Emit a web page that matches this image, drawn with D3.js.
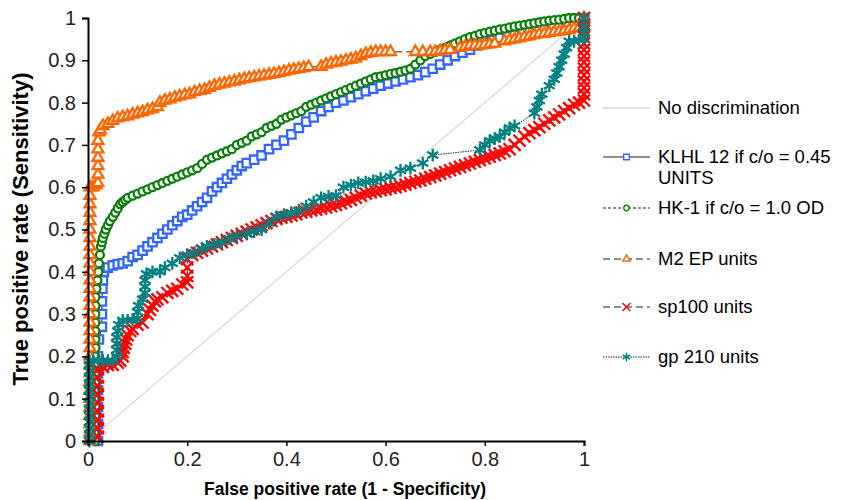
<!DOCTYPE html>
<html>
<head>
<meta charset="utf-8">
<script src="https://cdn.jsdelivr.net/npm/d3@7"></script>
<style>
  body { margin: 0; background: #fff; }
  text { font-family: "Liberation Sans", Arial, sans-serif; }
</style>
</head>
<body>
<svg width="845" height="500"></svg>
<script>
//  Chart data: each series is a list of [false positive rate, true positive rate]
const xTicks = [0, 0.2, 0.4, 0.6, 0.8, 1];
const yTicks = [0, 0.1, 0.2, 0.3, 0.4, 0.5, 0.6, 0.7, 0.8, 0.9, 1];
const noDiscrimination = [[0, 0], [1, 1]];

const klhl12 = [
  [0.02, 0], [0.02, 0.04], [0.02, 0.08], [0.02, 0.12], [0.02, 0.16], [0.02, 0.2], [0.022, 0.24],
  [0.028, 0.27], [0.028, 0.3], [0.028, 0.33], [0.029, 0.36], [0.03, 0.38], [0.032, 0.4], [0.04, 0.41],
  [0.05, 0.415], [0.06, 0.418], [0.07, 0.42], [0.08, 0.425], [0.09, 0.435], [0.1, 0.44], [0.11, 0.45],
  [0.12, 0.46], [0.13, 0.47], [0.14, 0.48], [0.15, 0.49], [0.16, 0.5], [0.17, 0.51], [0.18, 0.52],
  [0.19, 0.53], [0.2, 0.535], [0.21, 0.545], [0.22, 0.555], [0.23, 0.565], [0.24, 0.575], [0.25, 0.59],
  [0.26, 0.6], [0.27, 0.61], [0.28, 0.62], [0.29, 0.63], [0.3, 0.64], [0.31, 0.65], [0.32, 0.657],
  [0.335, 0.665], [0.35, 0.675], [0.365, 0.69], [0.38, 0.7], [0.395, 0.71], [0.41, 0.725], [0.425, 0.74],
  [0.44, 0.755], [0.455, 0.765], [0.47, 0.78], [0.485, 0.79], [0.5, 0.8], [0.515, 0.805], [0.53, 0.813],
  [0.545, 0.82], [0.56, 0.827], [0.575, 0.833], [0.59, 0.84], [0.605, 0.845], [0.62, 0.85], [0.635, 0.855],
  [0.65, 0.86], [0.665, 0.865], [0.68, 0.872], [0.695, 0.88], [0.71, 0.89], [0.725, 0.9], [0.74, 0.91],
  [0.755, 0.918], [0.77, 0.925], [0.785, 0.935], [0.8, 0.942], [0.815, 0.948], [0.83, 0.953], [0.845, 0.957],
  [0.86, 0.96], [0.875, 0.964], [0.89, 0.967], [0.905, 0.97], [0.92, 0.974], [0.935, 0.978], [0.95, 0.982],
  [0.965, 0.986], [0.98, 0.99], [0.99, 0.992], [1, 1]
];

const hk1 = [
  [0.015, 0], [0.015, 0.02], [0.015, 0.04], [0.015, 0.06], [0.015, 0.08], [0.015, 0.1], [0.015, 0.12],
  [0.015, 0.14], [0.015, 0.16], [0.015, 0.18], [0.015, 0.2], [0.015, 0.22], [0.015, 0.24], [0.015, 0.26],
  [0.015, 0.28], [0.015, 0.3], [0.015, 0.32], [0.015, 0.34], [0.017, 0.36], [0.019, 0.38], [0.021, 0.4],
  [0.022, 0.42], [0.024, 0.44], [0.026, 0.46], [0.028, 0.47], [0.03, 0.48], [0.033, 0.49], [0.036, 0.5],
  [0.04, 0.51], [0.044, 0.52], [0.05, 0.53], [0.055, 0.54], [0.06, 0.55], [0.065, 0.56], [0.07, 0.565],
  [0.075, 0.57], [0.08, 0.575], [0.09, 0.58], [0.1, 0.585], [0.11, 0.59], [0.12, 0.595], [0.13, 0.6],
  [0.14, 0.605], [0.15, 0.61], [0.16, 0.615], [0.17, 0.62], [0.18, 0.625], [0.19, 0.63], [0.2, 0.635],
  [0.21, 0.64], [0.22, 0.645], [0.23, 0.655], [0.24, 0.665], [0.25, 0.67], [0.26, 0.675], [0.27, 0.68],
  [0.28, 0.685], [0.29, 0.69], [0.3, 0.7], [0.31, 0.705], [0.32, 0.71], [0.33, 0.72], [0.34, 0.725],
  [0.35, 0.73], [0.36, 0.74], [0.37, 0.745], [0.38, 0.75], [0.39, 0.76], [0.4, 0.765], [0.41, 0.77],
  [0.42, 0.775], [0.43, 0.78], [0.44, 0.79], [0.45, 0.795], [0.46, 0.8], [0.47, 0.805], [0.48, 0.81],
  [0.49, 0.815], [0.5, 0.82], [0.51, 0.825], [0.52, 0.83], [0.53, 0.835], [0.54, 0.84], [0.55, 0.845],
  [0.56, 0.85], [0.57, 0.855], [0.58, 0.86], [0.59, 0.862], [0.6, 0.865], [0.61, 0.868], [0.62, 0.87],
  [0.63, 0.873], [0.64, 0.876], [0.65, 0.88], [0.66, 0.89], [0.67, 0.9], [0.68, 0.91], [0.69, 0.915],
  [0.7, 0.92], [0.71, 0.925], [0.72, 0.93], [0.73, 0.935], [0.74, 0.94], [0.75, 0.945], [0.76, 0.95],
  [0.77, 0.955], [0.78, 0.958], [0.79, 0.962], [0.8, 0.965], [0.81, 0.968], [0.82, 0.97], [0.83, 0.973],
  [0.84, 0.975], [0.85, 0.978], [0.86, 0.98], [0.87, 0.982], [0.88, 0.984], [0.89, 0.986], [0.9, 0.988],
  [0.91, 0.99], [0.92, 0.992], [0.93, 0.994], [0.94, 0.995], [0.95, 0.996], [0.96, 0.998], [0.97, 1],
  [0.98, 1], [0.99, 1], [1, 1]
];

const m2ep = [
  [0.004, 0], [0.004, 0.02], [0.004, 0.04], [0.004, 0.06], [0.004, 0.08], [0.004, 0.1], [0.004, 0.12],
  [0.004, 0.14], [0.004, 0.16], [0.004, 0.18], [0.004, 0.2], [0.004, 0.22], [0.004, 0.24], [0.004, 0.26],
  [0.004, 0.28], [0.004, 0.3], [0.004, 0.32], [0.004, 0.34], [0.004, 0.36], [0.004, 0.38], [0.004, 0.4],
  [0.004, 0.42], [0.004, 0.44], [0.004, 0.46], [0.004, 0.48], [0.004, 0.5], [0.004, 0.52], [0.004, 0.54],
  [0.004, 0.56], [0.004, 0.58], [0.004, 0.6], [0.01, 0.6], [0.016, 0.605], [0.02, 0.61], [0.02, 0.63],
  [0.02, 0.65], [0.02, 0.67], [0.02, 0.69], [0.02, 0.71], [0.022, 0.73], [0.025, 0.735], [0.03, 0.745],
  [0.04, 0.75], [0.05, 0.757], [0.06, 0.763], [0.07, 0.766], [0.08, 0.768], [0.09, 0.772], [0.1, 0.775],
  [0.11, 0.778], [0.12, 0.782], [0.13, 0.785], [0.14, 0.79], [0.145, 0.8], [0.155, 0.805], [0.165, 0.808],
  [0.175, 0.812], [0.185, 0.815], [0.195, 0.818], [0.205, 0.82], [0.215, 0.825], [0.225, 0.828], [0.235, 0.83],
  [0.245, 0.835], [0.255, 0.84], [0.265, 0.843], [0.275, 0.845], [0.285, 0.848], [0.295, 0.85], [0.305, 0.853],
  [0.315, 0.856], [0.325, 0.858], [0.335, 0.86], [0.345, 0.862], [0.355, 0.864], [0.365, 0.866], [0.375, 0.868],
  [0.385, 0.87], [0.395, 0.873], [0.405, 0.876], [0.415, 0.878], [0.425, 0.88], [0.435, 0.882], [0.445, 0.884],
  [0.47, 0.885], [0.48, 0.89], [0.49, 0.893], [0.5, 0.895], [0.51, 0.897], [0.52, 0.9], [0.53, 0.902],
  [0.54, 0.905], [0.55, 0.91], [0.56, 0.915], [0.57, 0.918], [0.58, 0.92], [0.59, 0.92], [0.6, 0.92],
  [0.61, 0.92], [0.66, 0.92], [0.675, 0.92], [0.69, 0.92], [0.7, 0.92], [0.71, 0.922], [0.72, 0.924],
  [0.73, 0.925], [0.75, 0.93], [0.76, 0.932], [0.77, 0.935], [0.78, 0.935], [0.79, 0.935], [0.8, 0.937],
  [0.81, 0.938], [0.82, 0.94], [0.84, 0.945], [0.85, 0.948], [0.86, 0.95], [0.87, 0.952], [0.88, 0.955],
  [0.89, 0.957], [0.9, 0.96], [0.91, 0.962], [0.92, 0.963], [0.93, 0.965], [0.94, 0.967], [0.95, 0.968],
  [0.96, 0.97], [0.97, 0.972], [0.98, 0.975], [0.99, 0.977], [1, 0.98], [1, 1]
];

const sp100 = [
  [0.02, 0.01], [0.02, 0.03], [0.02, 0.05], [0.02, 0.07], [0.02, 0.09], [0.02, 0.11], [0.02, 0.13],
  [0.02, 0.15], [0.02, 0.17], [0.03, 0.175], [0.04, 0.18], [0.05, 0.18], [0.06, 0.185], [0.065, 0.19],
  [0.07, 0.2], [0.07, 0.21], [0.072, 0.22], [0.075, 0.23], [0.077, 0.24], [0.08, 0.25], [0.085, 0.26],
  [0.09, 0.265], [0.1, 0.275], [0.11, 0.28], [0.12, 0.3], [0.125, 0.31], [0.13, 0.32], [0.135, 0.33],
  [0.14, 0.335], [0.15, 0.34], [0.16, 0.35], [0.17, 0.355], [0.18, 0.36], [0.19, 0.37], [0.2, 0.375],
  [0.2, 0.39], [0.2, 0.41], [0.2, 0.43], [0.21, 0.44], [0.22, 0.445], [0.23, 0.45], [0.24, 0.455],
  [0.25, 0.46], [0.26, 0.465], [0.27, 0.47], [0.28, 0.475], [0.29, 0.48], [0.3, 0.485], [0.31, 0.49],
  [0.32, 0.495], [0.33, 0.5], [0.34, 0.505], [0.35, 0.51], [0.36, 0.515], [0.37, 0.52], [0.38, 0.525],
  [0.39, 0.528], [0.4, 0.53], [0.41, 0.533], [0.42, 0.536], [0.43, 0.54], [0.44, 0.542], [0.45, 0.545],
  [0.46, 0.547], [0.47, 0.55], [0.48, 0.552], [0.49, 0.555], [0.5, 0.558], [0.51, 0.562], [0.52, 0.566],
  [0.53, 0.57], [0.54, 0.575], [0.55, 0.58], [0.56, 0.585], [0.57, 0.588], [0.58, 0.59], [0.59, 0.593],
  [0.6, 0.595], [0.61, 0.598], [0.62, 0.6], [0.63, 0.603], [0.64, 0.606], [0.65, 0.61], [0.66, 0.613],
  [0.67, 0.616], [0.68, 0.62], [0.69, 0.624], [0.7, 0.628], [0.71, 0.632], [0.72, 0.636], [0.73, 0.64],
  [0.74, 0.644], [0.75, 0.648], [0.76, 0.652], [0.77, 0.656], [0.78, 0.66], [0.79, 0.664], [0.8, 0.668],
  [0.81, 0.672], [0.82, 0.676], [0.83, 0.68], [0.84, 0.685], [0.85, 0.69], [0.86, 0.7], [0.87, 0.71],
  [0.88, 0.72], [0.89, 0.728], [0.9, 0.735], [0.91, 0.742], [0.92, 0.75], [0.93, 0.758], [0.94, 0.765],
  [0.95, 0.772], [0.96, 0.78], [0.97, 0.787], [0.98, 0.795], [0.99, 0.8], [1, 0.805], [1, 0.82],
  [1, 0.835], [1, 0.85], [1, 0.865], [1, 0.88], [1, 0.895], [1, 0.91], [1, 0.925], [1, 0.94],
  [1, 0.955], [1, 0.97], [1, 0.985], [1, 1]
];

const gp210 = [
  [0.003, 0], [0.003, 0.015], [0.003, 0.03], [0.003, 0.045], [0.003, 0.06], [0.003, 0.075], [0.003, 0.09],
  [0.003, 0.105], [0.003, 0.12], [0.003, 0.135], [0.003, 0.15], [0.003, 0.165], [0.003, 0.18], [0.003, 0.19],
  [0.01, 0.19], [0.02, 0.19], [0.03, 0.19], [0.04, 0.19], [0.05, 0.19], [0.058, 0.2], [0.058, 0.215],
  [0.058, 0.23], [0.058, 0.245], [0.06, 0.26], [0.062, 0.275], [0.07, 0.285], [0.08, 0.285], [0.09, 0.287],
  [0.1, 0.29], [0.1, 0.305], [0.102, 0.32], [0.11, 0.335], [0.115, 0.35], [0.115, 0.365], [0.115, 0.38],
  [0.118, 0.395], [0.13, 0.4], [0.145, 0.4], [0.155, 0.41], [0.17, 0.42], [0.185, 0.433], [0.2, 0.44],
  [0.215, 0.445], [0.23, 0.455], [0.24, 0.46], [0.255, 0.465], [0.27, 0.47], [0.285, 0.478], [0.3, 0.485],
  [0.32, 0.49], [0.335, 0.495], [0.35, 0.5], [0.365, 0.515], [0.38, 0.53], [0.395, 0.535], [0.41, 0.54],
  [0.425, 0.545], [0.44, 0.555], [0.455, 0.565], [0.47, 0.575], [0.485, 0.578], [0.5, 0.58], [0.515, 0.6],
  [0.53, 0.605], [0.545, 0.61], [0.56, 0.612], [0.575, 0.615], [0.59, 0.62], [0.61, 0.625], [0.63, 0.64],
  [0.65, 0.645], [0.675, 0.657], [0.695, 0.676], [0.79, 0.688], [0.8, 0.7], [0.81, 0.71], [0.82, 0.715],
  [0.83, 0.72], [0.84, 0.73], [0.85, 0.74], [0.86, 0.745], [0.9, 0.775], [0.905, 0.79], [0.91, 0.805],
  [0.915, 0.82], [0.93, 0.84], [0.94, 0.855], [0.945, 0.87], [0.95, 0.885], [0.955, 0.9], [0.96, 0.915],
  [0.965, 0.93], [0.97, 0.945], [0.98, 0.945], [0.99, 0.948], [1, 0.95], [1, 0.965], [1, 0.98], [1, 1]
];

const seriesNames = ['KLHL 12 if c/o = 0.45', 'HK-1 if c/o = 1.0 OD', 'M2 EP units', 'sp100 units', 'gp 210 units'];


//======================================
//  Layout
//======================================
const svg = d3.select('svg');
const margin = { top: 18, left: 88, right: 261, bottom: 59 };
const width = 845, height = 500;

const xScale = d3.scaleLinear().domain([0, 1]).range([margin.left, width - margin.right]);
const yScale = d3.scaleLinear().domain([0, 1]).range([height - margin.bottom, margin.top]);

//  One style entry per series, in the drawing order of the original workbook
const styles = [
  { name: seriesNames[0], data: klhl12, color: '#3366ff', symbol: d3.symbolSquare2, size: 90, fill: '#fff', dash: null },
  { name: seriesNames[1], data: hk1,    color: '#0b7f0b', symbol: d3.symbolCircle,  size: 50, fill: '#fff', dash: '3,2' },
  { name: seriesNames[2], data: m2ep,   color: '#ff6600', symbol: d3.symbolTriangle2, size: 85, fill: '#fff', dash: '7,4' },
  { name: seriesNames[3], data: sp100,  color: '#ff0000', symbol: d3.symbolTimes, size: 95, fill: 'none', dash: '7,4' },
  { name: seriesNames[4], data: gp210,  color: '#008080', symbol: d3.symbolAsterisk, size: 115, fill: 'none', dash: '1.5,1' }
];


//======================================
//  Diagonal reference
//======================================
const line = d3.line().x(d => xScale(d[0])).y(d => yScale(d[1]));

svg.append('path')
  .datum(noDiscrimination)
  .attr('d', line)
  .attr('fill', 'none')
  .attr('stroke', '#d9d9d9')
  .attr('stroke-width', 1.3);


//======================================
//  Series: thin connecting line, then markers
//======================================
styles.forEach(s => {
  const g = svg.append('g');

  g.append('path')
    .datum(s.data)
    .attr('d', line)
    .attr('fill', 'none')
    .attr('stroke', '#222')
    .attr('stroke-width', 1)
    .attr('stroke-dasharray', s.dash);

  g.selectAll('path.pt')
    .data(s.data)
    .enter()
    .append('path')
    .attr('class', 'pt')
    .attr('d', d3.symbol().type(s.symbol).size(s.size))
    .attr('transform', d => `translate(${xScale(d[0])},${yScale(d[1])})`)
    .attr('fill', s.fill)
    .attr('stroke', s.color)
    .attr('stroke-width', 2.3);
});


//======================================
//  Axes
//======================================
const xAxis = d3.axisBottom(xScale)
  .tickValues(xTicks)
  .tickFormat(d => String(d))
  .tickSizeOuter(0)
  .tickSize(5)
  .tickPadding(6);

const yAxis = d3.axisLeft(yScale)
  .tickValues(yTicks)
  .tickFormat(d => String(d))
  .tickSizeOuter(0)
  .tickSize(6)
  .tickPadding(6);

const xAxisGroup = svg.append('g')
  .attr('transform', `translate(0, ${height - margin.bottom})`)
  .call(xAxis);

const yAxisGroup = svg.append('g')
  .attr('transform', `translate(${margin.left}, 0)`)
  .call(yAxis);

[xAxisGroup, yAxisGroup].forEach(g => {
  g.select('.domain').attr('stroke', '#000').attr('stroke-width', 2);
  g.selectAll('.tick line').attr('stroke', '#000').attr('stroke-width', 1.5);
  g.selectAll('.tick text')
    .attr('fill', '#222')
    .style('font-size', '20px')
    .style('font-family', '"Liberation Sans", Arial, sans-serif');
});

svg.append('text')
  .attr('text-anchor', 'middle')
  .attr('x', 345)
  .attr('y', 495)
  .style('font-size', '17.5px')
  .style('font-weight', 'bold')
  .text('False positive rate (1 - Specificity)');

svg.append('text')
  .attr('text-anchor', 'middle')
  .attr('transform', `translate(28, 229) rotate(-90)`)
  .style('font-size', '22px')
  .style('font-weight', 'bold')
  .text('True positive rate (Sensitivity)');


//======================================
//  Legend
//======================================
const legend = svg.append('g');
const legendX = 603, legendLen = 47, legendTextX = 658;
const legendY = [157, 208, 259, 307, 357];
const legendFont = '18.5px';

legend.append('line')
  .attr('x1', legendX).attr('x2', legendX + legendLen)
  .attr('y1', 108).attr('y2', 108)
  .attr('stroke', '#d9d9d9').attr('stroke-width', 1.3);

legend.append('text')
  .attr('x', legendTextX).attr('y', 108).attr('dy', '0.35em')
  .style('font-size', legendFont)
  .text('No discrimination');

styles.forEach((s, i) => {
  const y = legendY[i];
  legend.append('line')
    .attr('x1', legendX).attr('x2', legendX + legendLen)
    .attr('y1', y).attr('y2', y)
    .attr('stroke', '#222').attr('stroke-width', 1)
    .attr('stroke-dasharray', s.dash);

  legend.append('path')
    .attr('d', d3.symbol().type(s.symbol).size(s.size * 0.45))
    .attr('transform', `translate(${legendX + legendLen / 2},${y})`)
    .attr('fill', s.fill === 'none' ? 'none' : '#fff')
    .attr('stroke', s.color)
    .attr('stroke-width', 1.4);

  legend.append('text')
    .attr('x', legendTextX).attr('y', y).attr('dy', '0.35em')
    .style('font-size', legendFont)
    .text(s.name);
});

legend.append('text')
  .attr('x', legendTextX).attr('y', 178).attr('dy', '0.35em')
  .style('font-size', legendFont)
  .text('UNITS');
</script>
</body>
</html>
